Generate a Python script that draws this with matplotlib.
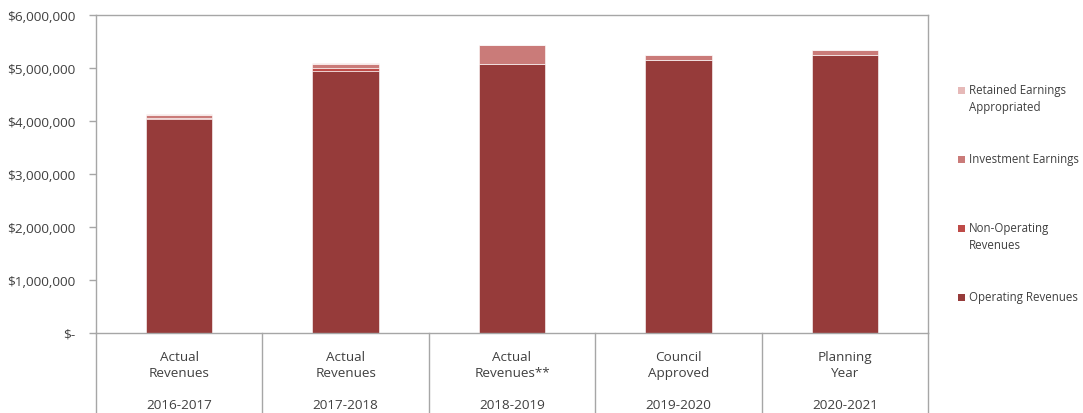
import matplotlib
matplotlib.use("Agg")
import matplotlib.pyplot as plt
from matplotlib.patches import Rectangle
from matplotlib.ticker import FuncFormatter, MultipleLocator
import numpy as np

plt.rcParams['font.family'] = ['Open Sans', 'DejaVu Sans']

# Categories (two-level axis labels)
categories = ["Actual\nRevenues", "Actual\nRevenues", "Actual\nRevenues**",
              "Council\nApproved", "Planning\nYear"]
years = ["2016-2017", "2017-2018", "2018-2019", "2019-2020", "2020-2021"]

# Revenue components (dollars)
operating_revenues = [4030000, 4950000, 5070000, 5145000, 5250000]
non_operating_revenues = [25000, 55000, 0, 0, 0]
investment_earnings = [65000, 70000, 365000, 100000, 90000]
retained_earnings_appropriated = [15000, 15000, 0, 0, 0]

series = [
    ("Operating Revenues", operating_revenues, "#963B3A"),
    ("Non-Operating Revenues", non_operating_revenues, "#BE4B48"),
    ("Investment Earnings", investment_earnings, "#CA7B79"),
    ("Retained Earnings Appropriated", retained_earnings_appropriated, "#E6B9B8"),
]
legend_labels = {
    "Operating Revenues": "Operating Revenues",
    "Non-Operating Revenues": "Non-Operating\nRevenues",
    "Investment Earnings": "Investment Earnings",
    "Retained Earnings Appropriated": "Retained Earnings\nAppropriated",
}

W, H = 1083, 414
fig = plt.figure(figsize=(W / 100, H / 100), dpi=100)
ax = fig.add_axes([96 / W, (H - 334) / H, (928 - 96) / W, (334 - 16) / H])

x = np.arange(len(categories))
bottom = np.zeros(len(categories))
for name, vals, color in series:
    vals = np.array(vals, dtype=float)
    ax.bar(x, vals, width=0.4, bottom=bottom, color=color,
           edgecolor="white", linewidth=0.4, zorder=2)
    bottom += vals

ax.set_xlim(-0.5, len(categories) - 0.5)
ax.set_ylim(0, 6000000)
ax.yaxis.set_major_locator(MultipleLocator(1000000))


def money(v, pos):
    if v == 0:
        return "$-"
    return "${:,.0f}".format(v)


ax.yaxis.set_major_formatter(FuncFormatter(money))

axis_color = "#A6A6A6"
text_color = "#404040"
for side in ["left", "right", "top", "bottom"]:
    ax.spines[side].set_color(axis_color)
    ax.spines[side].set_linewidth(1.0)

ax.tick_params(axis="y", length=5, width=1.0, color=axis_color,
               labelcolor=text_color, labelsize=9.7, pad=10)
ax.set_xticks([])

# Category labels and separators below the axis
sep_depth = (414 - 334) / (334 - 16)
trans = ax.get_xaxis_transform()
for i in range(len(categories) + 1):
    ax.plot([i - 0.5, i - 0.5], [0, -sep_depth - 0.02], transform=trans,
            color=axis_color, linewidth=1.0, clip_on=False)
for i, (c, yr) in enumerate(zip(categories, years)):
    ax.text(i, -17 / 318, c, transform=trans, ha="center", va="top",
            fontsize=9.7, color=text_color, linespacing=1.35)
    ax.text(i, -72 / 318, yr, transform=trans, ha="center", va="center",
            fontsize=9.7, color=text_color)

# Legend drawn as swatches with text, top entry first
legend_rows = [91, 160, 229, 298]
for (name, vals, color), ypix in zip(reversed(series), legend_rows):
    fig.patches.append(Rectangle((958 / W, (H - ypix - 4) / H), 7 / W, 7 / H,
                                 transform=fig.transFigure, facecolor=color,
                                 edgecolor="none"))
    fig.text(969 / W, (H - ypix + 7) / H, legend_labels[name], ha="left",
             va="top", fontsize=8.3, color=text_color, linespacing=1.45)

fig.savefig("out.png", dpi=100)
